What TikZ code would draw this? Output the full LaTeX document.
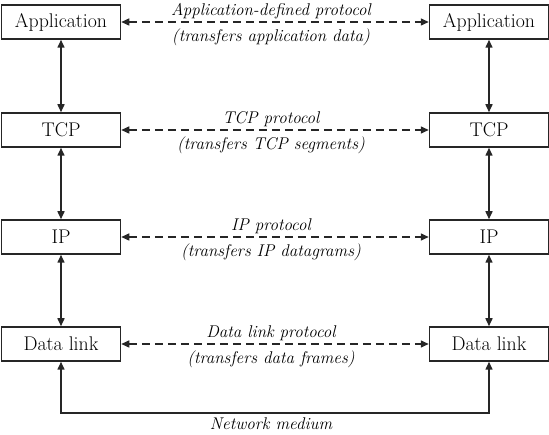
\documentclass[tikz,border=0pt]{standalone}
\usepackage{fontspec}
\usetikzlibrary{arrows.meta}
\begin{document}
\begin{tikzpicture}[x=1pt,y=-1pt,
  layerbox/.style={draw=black!85,line width=1.5pt,minimum width=119pt,minimum height=34pt,inner sep=0pt,font=\fontsize{19.8}{21}\selectfont},
  link/.style={line width=1.5pt,draw=black!85,{Triangle[length=8pt,width=7pt]}-{Triangle[length=8pt,width=7pt]}},
  proto/.style={line width=1.5pt,draw=black!85,dash pattern=on 8pt off 5pt,{Triangle[length=8pt,width=7pt]}-{Triangle[length=8pt,width=7pt]}},
  lbl/.style={font=\fontsize{17}{19}\selectfont\itshape,inner sep=0pt}]
\useasboundingbox (0,0) rectangle (549,435);
\node[layerbox] (la) at (61,22) {Application};
\node[layerbox] (ra) at (489,22) {Application};
\node[layerbox] (lt) at (61,130) {TCP};
\node[layerbox] (rt) at (489,130) {TCP};
\node[layerbox] (li) at (61,237) {IP};
\node[layerbox] (ri) at (489,237) {IP};
\node[layerbox] (ld) at (61,344) {Data link};
\node[layerbox] (rd) at (489,344) {Data link};
\draw[link] (la) -- (lt);
\draw[link] (lt) -- (li);
\draw[link] (li) -- (ld);
\draw[link] (ra) -- (rt);
\draw[link] (rt) -- (ri);
\draw[link] (ri) -- (rd);
\draw[proto] (la) -- (ra);
\draw[proto] (lt) -- (rt);
\draw[proto] (li) -- (ri);
\draw[proto] (ld) -- (rd);
\node[lbl] (ta1) at (271,11) {Application-defined protocol};
\node[lbl] (ta2) at (271,37) {(transfers application data)};
\node[lbl] (tt1) at (271,119) {TCP protocol};
\node[lbl] (tt2) at (271,145) {(transfers TCP segments)};
\node[lbl] (ti1) at (271,226) {IP protocol};
\node[lbl] (ti2) at (271,252) {(transfers IP datagrams)};
\node[lbl] (td1) at (271,333) {Data link protocol};
\node[lbl] (td2) at (271,359) {(transfers data frames)};
\coordinate (ml) at (61,413);
\coordinate (mr) at (489,413);
\draw[line width=1.5pt,draw=black!85,{Triangle[length=8pt,width=7pt]}-{Triangle[length=8pt,width=7pt]}] (ld.south) -- (ml) -- (mr) -- (rd.south);
\node[lbl] (nm) at (271,424) {Network medium};
\end{tikzpicture}
\end{document}
